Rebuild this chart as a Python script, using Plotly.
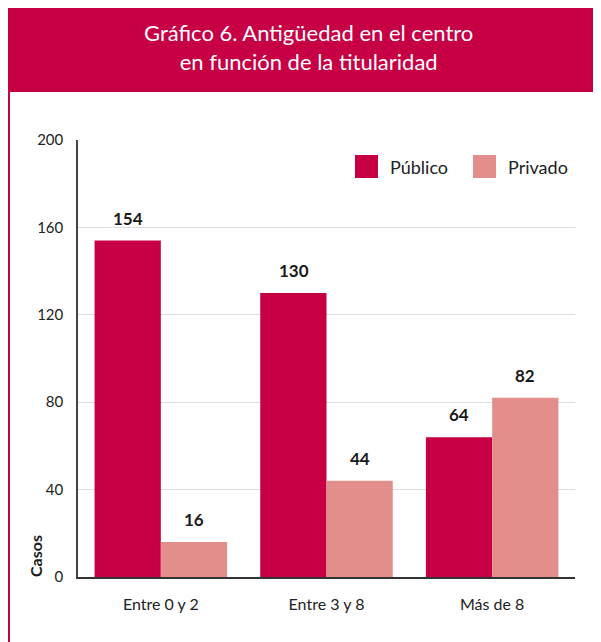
import plotly.graph_objects as go

# datos
categorias = ["Entre 0 y 2", "Entre 3 y 8", "Más de 8"]
publico = [154, 130, 64]
privado = [16, 44, 82]
ticks_y = [0, 40, 80, 120, 160, 200]

titulo = "Gráfico 6. Antigüedad en el centro<br>en función de la titularidad"

ROJO = "#C70045"
ROSA = "#E28E8B"
FUENTE = "Lato, 'Noto Sans', sans-serif"

# la pagina html deja 8px de margen, asi que todo va corrido
OFF = 8
W, H = 601, 642
L, R, T, B = 78 - OFF, 601 - (575 - OFF), 140 - OFF, 642 - (577 - OFF)
pw, ph = W - L - R, H - T - B


def px_x(p):
    # p = pixel de la pagina
    return (p - OFF - L) / pw


def px_y(p):
    return 1 - (p - OFF - T) / ph


fig = go.Figure()
fig.add_trace(go.Bar(x=categorias, y=publico, name="Público", marker_color=ROJO,
                     marker_line_width=0))
fig.add_trace(go.Bar(x=categorias, y=privado, name="Privado", marker_color=ROSA,
                     marker_line_width=0))

# etiquetas de valor
for serie, dx in ((publico, -33), (privado, 33)):
    for c, v in zip(categorias, serie):
        fig.add_annotation(x=c, y=v, text=f"<b>{v}</b>", showarrow=False,
                           xshift=dx, yshift=10, yanchor="bottom",
                           font=dict(size=17, color="#1a1a1a", family=FUENTE))

# banda del titulo + borde izquierdo
fig.add_shape(type="rect", xref="paper", yref="paper",
              x0=px_x(6), x1=px_x(W + 20), y0=px_y(92), y1=px_y(7),
              fillcolor=ROJO, line_width=0, layer="below")
fig.add_shape(type="line", xref="paper", yref="paper",
              x0=px_x(9), x1=px_x(9), y0=px_y(92), y1=px_y(H + 20),
              line=dict(color=ROJO, width=2))
fig.add_annotation(xref="paper", yref="paper", x=px_x(308), y=px_y(47),
                   text=titulo, showarrow=False, xanchor="center", yanchor="middle",
                   font=dict(size=22, color="white", family=FUENTE))

# leyenda a mano (cuadrados grandes)
for nombre, color, x0 in (("Público", ROJO, 355), ("Privado", ROSA, 473)):
    fig.add_shape(type="rect", xref="paper", yref="paper",
                  x0=px_x(x0), x1=px_x(x0 + 23), y0=px_y(178), y1=px_y(155),
                  fillcolor=color, line_width=0)
    fig.add_annotation(xref="paper", yref="paper", x=px_x(x0 + 33), y=px_y(167),
                       text=nombre, showarrow=False, xanchor="left", yanchor="middle",
                       font=dict(size=18, color="#222", family=FUENTE))

# titulo del eje y, abajo
fig.add_annotation(xref="paper", yref="paper", x=px_x(35), y=px_y(579),
                   text="<b>Casos</b>", showarrow=False, textangle=-90,
                   xanchor="center", yanchor="bottom",
                   font=dict(size=16, color="#1a1a1a", family=FUENTE))

fig.update_layout(
    width=W, height=H,
    margin=dict(l=L, r=R, t=T, b=B),
    barmode="group", bargap=0.2, bargroupgap=0,
    plot_bgcolor="white", paper_bgcolor="white",
    font=dict(family=FUENTE, size=16, color="#222"),
    showlegend=False,
)
fig.update_xaxes(showline=True, linecolor="#333", linewidth=2, ticks="",
                 tickfont=dict(size=16), ticklabelstandoff=12)
fig.update_yaxes(range=[0, 200], tickvals=ticks_y, showgrid=True, gridcolor="#dcdcdc",
                 gridwidth=1, showline=True, linecolor="#444", linewidth=1.5,
                 ticks="", zeroline=False, tickfont=dict(size=15), ticklabelstandoff=10)

fig.write_html("out.html")
